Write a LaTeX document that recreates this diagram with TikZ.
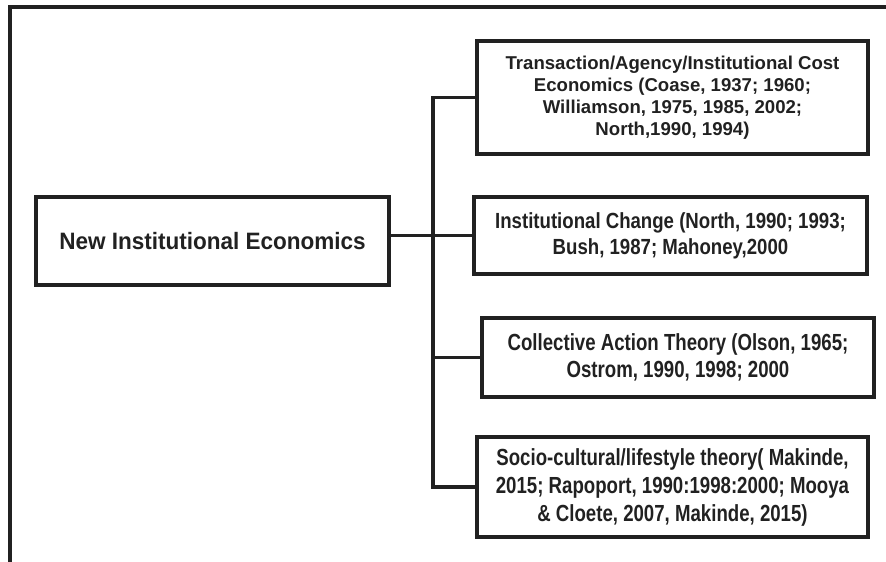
\documentclass[tikz,border=0pt]{standalone}
\usepackage{fontspec}
\setmainfont{Liberation Sans}
\newfontfamily\headfont[FakeStretch=0.95]{Liberation Sans}
\newfontfamily\midfont[FakeStretch=0.85]{Liberation Sans}
\newfontfamily\tallfont[FakeStretch=0.8]{Liberation Sans}
\definecolor{ink}{gray}{0.13}

\begin{document}
\begin{tikzpicture}[x=1pt,y=-1pt,
  box/.style={draw=ink, text=ink, line width=3.3pt, align=center, inner sep=0pt},
  link/.style={draw=ink, line width=3.3pt}]

\useasboundingbox (0,0) rectangle (886,562);

\draw[link] (10,562) -- (10,7) -- (886,7);

\node[box, minimum width=353, minimum height=88,
  font=\headfont\bfseries\fontsize{23.7}{28}\selectfont] (nie) at (212.5,241) {New Institutional Economics};

\node[box, minimum width=391, minimum height=113,
  font=\bfseries\fontsize{18.6}{22}\selectfont] (tce) at (672.5,97.5)
  {Transaction/Agency/Institutional Cost\\Economics (Coase, 1937; 1960;\\Williamson, 1975, 1985, 2002;\\North,1990, 1994)};
\node[box, minimum width=393, minimum height=77,
  font=\midfont\bfseries\fontsize{21.9}{26}\selectfont] (ic) at (670.5,235.5)
  {Institutional Change (North, 1990; 1993;\\Bush, 1987; Mahoney,2000};
\node[box, minimum width=392, minimum height=79,
  font=\tallfont\bfseries\fontsize{23.3}{27.7}\selectfont] (cat) at (678,357.5)
  {Collective Action Theory (Olson, 1965;\\Ostrom, 1990, 1998; 2000};
\node[box, minimum width=391, minimum height=100,
  font=\tallfont\bfseries\fontsize{23.3}{28}\selectfont] (slt) at (672.5,487)
  {Socio-cultural/lifestyle theory( Makinde,\\2015; Rapoport, 1990:1998:2000; Mooya\\\& Cloete, 2007, Makinde, 2015)};

\coordinate (trunk) at (433,97.5);

\draw[link] (tce.west) -- (trunk) -- (trunk |- slt.west) -- (slt.west);
\draw[link] (nie.east |- ic.west) -- (ic.west);
\draw[link] (trunk |- cat.west) -- (cat.west);
\end{tikzpicture}
\end{document}
